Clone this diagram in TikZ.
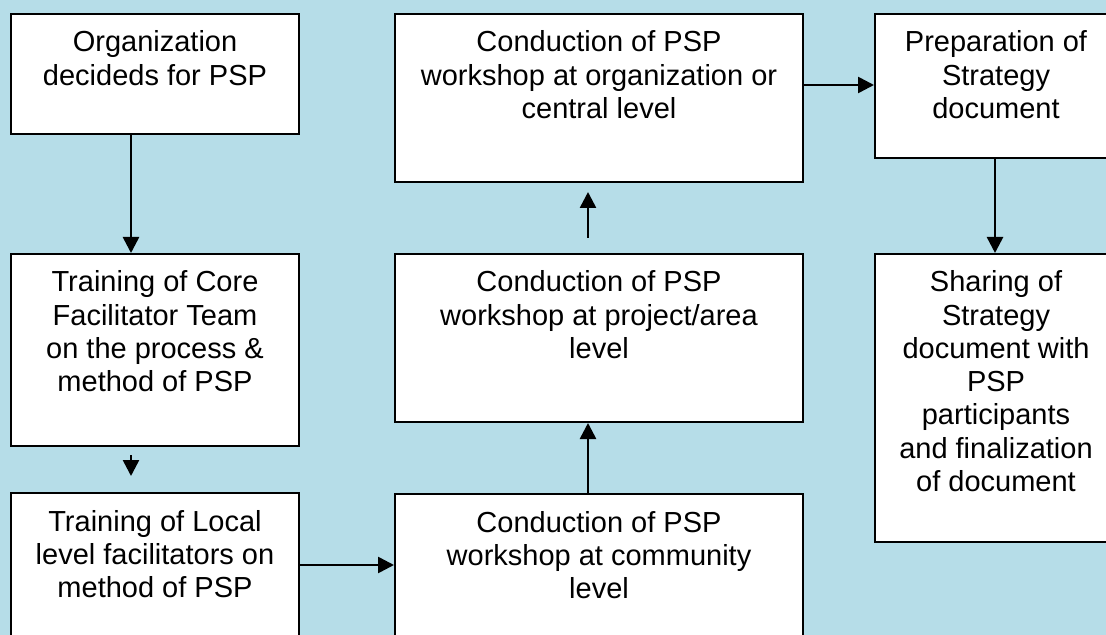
\documentclass[tikz,border=0pt]{standalone}
\usepackage{fontspec}
\setmainfont{Liberation Sans}
\usetikzlibrary{arrows.meta,positioning}
\definecolor{skyback}{HTML}{B6DDE8}
\newcommand{\boxlines}[3]{\parbox[c][#2][t]{#1}{\centering\rule{0pt}{19pt}#3}}
\tikzset{
    stepbox/.style={draw=black, line width=1pt, fill=white, inner sep=0pt, anchor=north west,
        font=\fontsize{14.5}{16.6}\selectfont},
    flow/.style={line width=1.3pt, -{Triangle[length=8pt,width=8pt]}}
}
\begin{document}
\begin{tikzpicture}[x=0.5pt, y=-0.5pt]
    \useasboundingbox (0,0) rectangle (1106,635);
    \clip (0,0) rectangle (1106,635);
    \fill[skyback] (0,0) rectangle (1106,635);

    \node[stepbox] (org) at (10,13) {\boxlines{144pt}{60pt}{Organization\\decideds for PSP}};
    \node[stepbox] (core) at (10,253) {\boxlines{144pt}{96pt}{Training of Core\\Facilitator Team\\on the process \&\\method of PSP}};
    \node[stepbox] (local) at (10,492) {\boxlines{144pt}{85pt}{Training of Local\\level facilitators on\\method of PSP}};

    \node[stepbox] (community) at (394,493) {\boxlines{204pt}{85pt}{Conduction of PSP\\workshop at community\\level}};
    \node[stepbox] (project) at (394,253) {\boxlines{204pt}{84pt}{Conduction of PSP\\workshop at project/area\\level}};
    \node[stepbox] (central) at (394,13) {\boxlines{204pt}{84pt}{Conduction of PSP\\workshop at organization or\\central level}};

    \node[stepbox] (prep) at (874,13) {\boxlines{121pt}{72pt}{Preparation of\\Strategy\\document}};
    \node[stepbox] (share) at (874,253) {\boxlines{121pt}{144pt}{Sharing of\\Strategy\\document with\\PSP\\participants\\and finalization\\of document}};

    \coordinate (lowrow) at (0,565);
    \coordinate (toprow) at (0,85);

    \draw[flow] ([xshift=-12pt]org.south) -- ([xshift=-12pt]core.north);
    \draw[flow] ([xshift=-12pt,yshift=-4pt]core.south) -- ([xshift=-12pt,yshift=8pt]local.north);
    \draw[flow] (local.east |- lowrow) -- (community.west |- lowrow);
    \draw[flow] ([xshift=-5.5pt]community.north) -- ([xshift=-5.5pt]project.south);
    \draw[flow] ([xshift=-5.5pt,yshift=7.5pt]project.north) -- ([xshift=-5.5pt,yshift=-4.5pt]central.south);
    \draw[flow] (central.east |- toprow) -- (prep.west |- toprow);
    \draw[flow] ([xshift=-0.5pt]prep.south) -- ([xshift=-0.5pt]share.north);
\end{tikzpicture}
\end{document}
